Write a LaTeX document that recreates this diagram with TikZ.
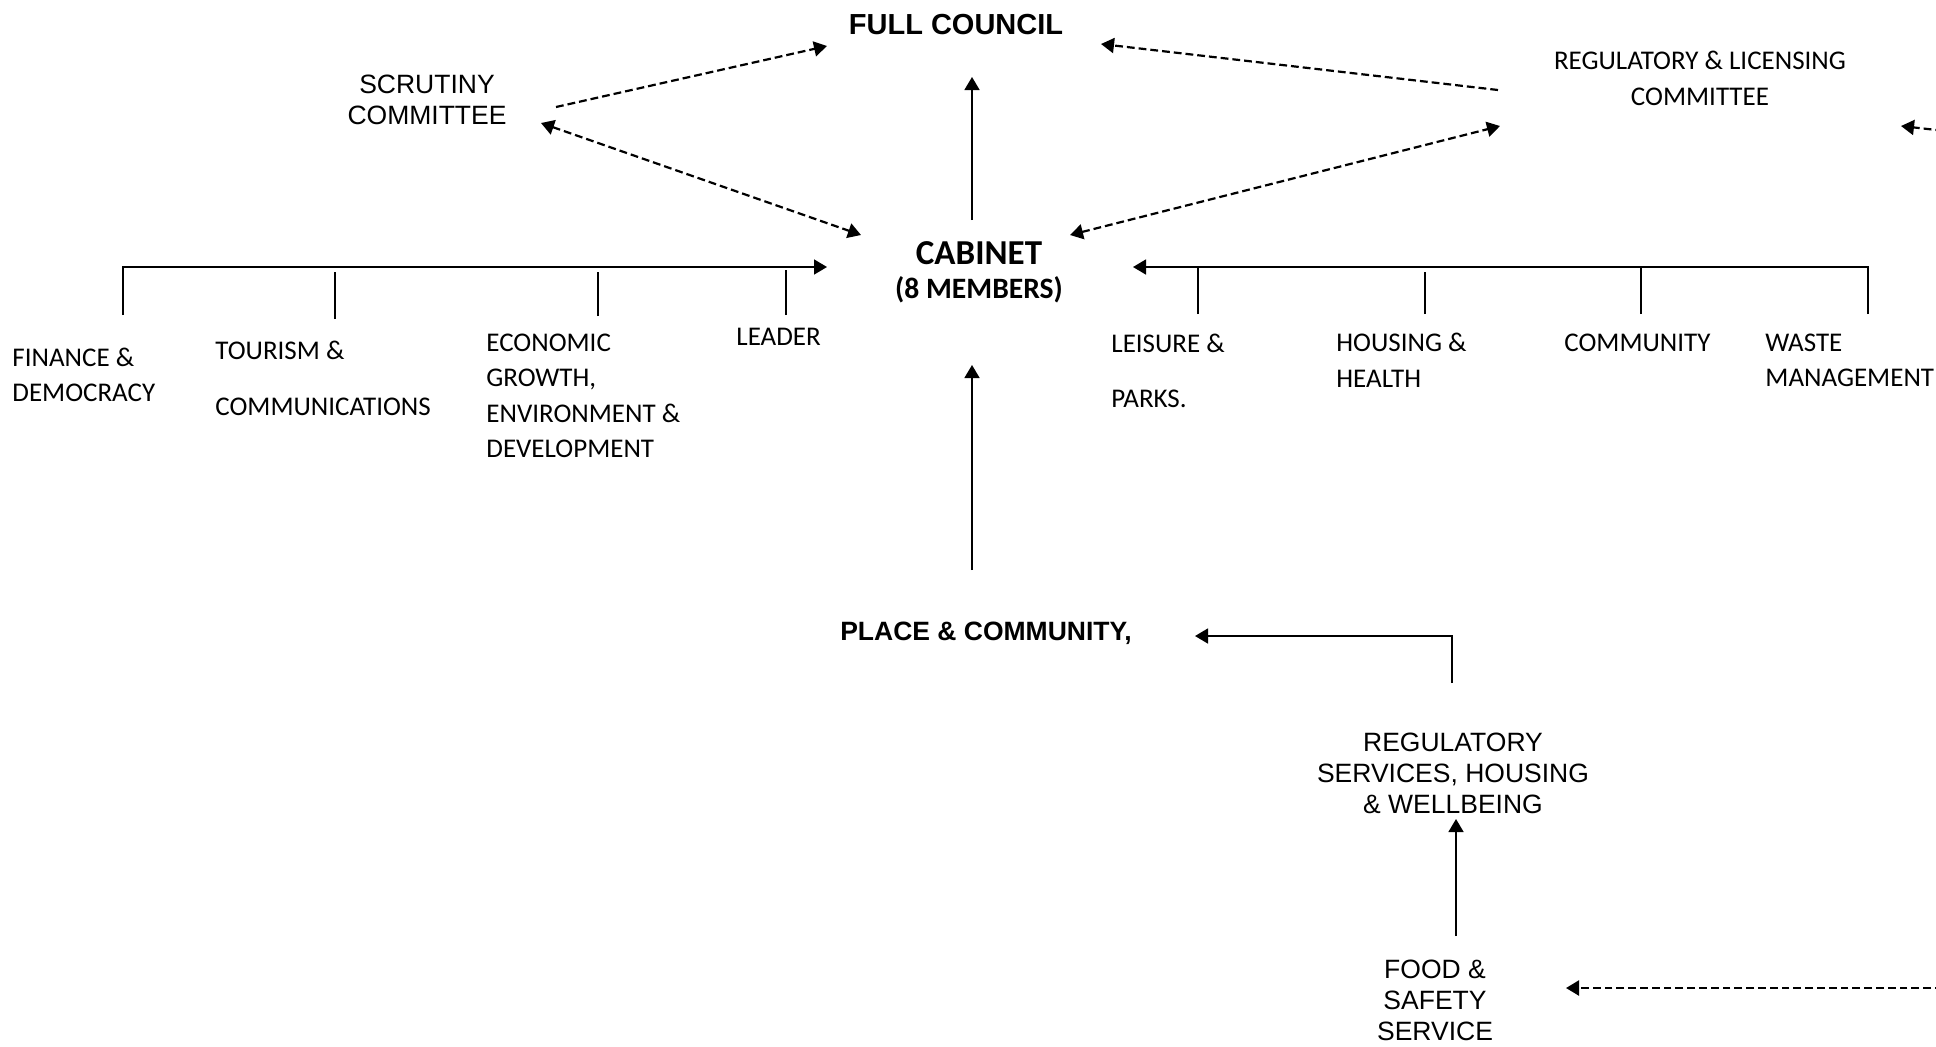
\documentclass[tikz,border=0pt]{standalone}
\usepackage{fontspec}
\setmainfont{Liberation Sans}
\newfontfamily\calibri{Carlito}
\usetikzlibrary{arrows.meta,calc}

\begin{document}
\begin{tikzpicture}[
    x=0.5pt, y=-0.5pt,
    >={Triangle[length=6.5pt,width=7.5pt]},
    every node/.style={inner sep=0pt},
    arial/.style={font=\fontsize{13.25}{15.5}\selectfont, align=center},
    cali/.style={font=\calibri\fontsize{13.5}{17.75}\selectfont, align=left, anchor=west},
    solidline/.style={line width=0.8pt},
    dashline/.style={line width=1.1pt, dash pattern=on 3.9pt off 2pt}
]
    \path[use as bounding box, fill=white] (0,0) rectangle (1936,1046);

    % committees and council
    \node[font=\bfseries\fontsize{14.5}{17}\selectfont] (council) at (956,25) {FULL COUNCIL};
    \node[arial] (scrutiny) at (427,99.5) {SCRUTINY\\COMMITTEE};
    \node[font=\calibri\fontsize{13.5}{18}\selectfont, align=center] (licensing) at (1700,78.5)
        {REGULATORY \& LICENSING\\COMMITTEE};
    \node[font=\calibri\bfseries\fontsize{14.8}{17.25}\selectfont, align=center] (cabinet) at (979,272.5)
        {{\fontsize{17.5}{17.25}\selectfont CABINET}\\(8 MEMBERS)};

    % portfolios
    \node[cali] (finance) at (12,375) {FINANCE \&\\DEMOCRACY};
    \node[cali] (tourism) at (215,378.5) {TOURISM \&\\[10pt]COMMUNICATIONS};
    \node[cali] (economic) at (486,396) {ECONOMIC\\GROWTH,\\ENVIRONMENT \&\\DEVELOPMENT};
    \node[cali] (leader) at (736,337) {LEADER};
    \node[cali] (leisure) at (1111,371) {LEISURE \&\\[10pt]PARKS.};
    \node[cali] (housing) at (1336,360.5) {HOUSING \&\\HEALTH};
    \node[cali] (community) at (1564,343) {COMMUNITY};
    \node[cali] (waste) at (1765,360.5) {WASTE\\MANAGEMENT};

    % services
    \node[font=\bfseries\fontsize{13.25}{15.5}\selectfont] (place) at (986,633) {PLACE \& COMMUNITY,};
    \node[arial] (regserv) at (1453,773) {REGULATORY\\SERVICES, HOUSING\\\& WELLBEING};
    \node[arial] (food) at (1435,1000) {FOOD \&\\SAFETY\\SERVICE};

    \coordinate (offtop) at (1990,136);
    \coordinate (offfood) at (1990,988);

    % dashed links
    \draw[dashline,->] ($(scrutiny)+(129,7.5)$) -- ($(council)+(-129,21)$);
    \draw[dashline,<->] ($(scrutiny)+(114,23.5)$) -- ($(cabinet)+(-118,-37.5)$);
    \draw[dashline,->] ($(licensing)+(-202,11.5)$) -- ($(council)+(145,19)$);
    \draw[dashline,<->] ($(cabinet)+(91,-37.5)$) -- ($(licensing)+(-200,47.5)$);
    \draw[dashline,->] (offtop) -- ($(licensing)+(201,47.5)$);
    \draw[dashline,->] (offfood) -- ($(food)+(131,-12)$);

    % solid links
    \draw[solidline,->] ($(cabinet)+(-7,-52.5)$) -- ($(council)+(16,52)$);
    \draw[solidline,->] ($(place)+(-14,-63)$) -- ($(cabinet)+(-7,92.5)$);
    \draw[solidline,->] ($(regserv)+(-1,-90)$) |- ($(place)+(209,3)$);
    \draw[solidline,->] ($(food)+(21,-64)$) -- ($(regserv)+(3,46)$);

    % portfolio bars
    \draw[solidline,->] ($(finance.west)+(111,-60)$) |- ($(cabinet)+(-152,-5.5)$);
    \draw[solidline] ($(tourism.west)+(120,-59.5)$) -- ++(0,-47);
    \draw[solidline] ($(economic.west)+(112,-80)$) -- ++(0,-44);
    \draw[solidline] ($(leader.west)+(50,-22)$) -- ++(0,-45);
    \draw[solidline,->] ($(waste.west)+(103,-46.5)$) |- ($(cabinet)+(154,-5.5)$);
    \draw[solidline] ($(leisure.west)+(87,-57)$) -- ++(0,-46);
    \draw[solidline] ($(housing.west)+(89,-46.5)$) -- ++(0,-42);
    \draw[solidline] ($(community.west)+(77,-29)$) -- ++(0,-46);
\end{tikzpicture}
\end{document}
